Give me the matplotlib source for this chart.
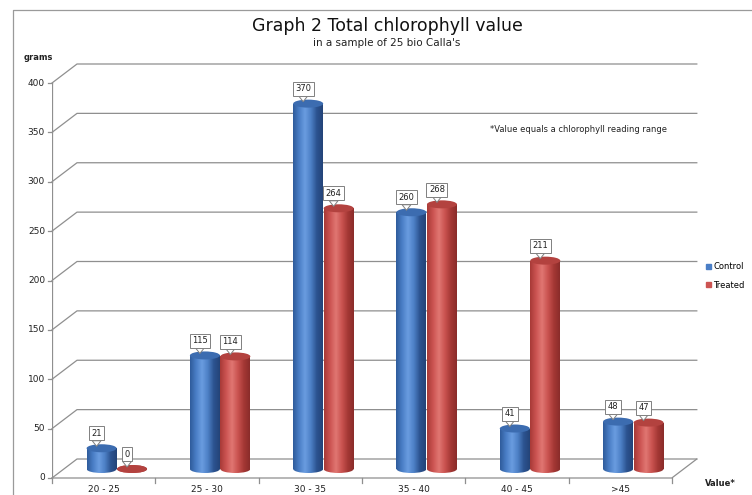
import numpy as np
import matplotlib
matplotlib.use("Agg")
import matplotlib.pyplot as plt
from matplotlib.colors import LinearSegmentedColormap
from matplotlib.patches import Ellipse, Patch
from matplotlib.lines import Line2D

# data
categories = ["20 - 25", "25 - 30", "30 - 35", "35 - 40", "40 - 45", ">45"]
control = [21, 115, 370, 260, 41, 48]
treated = [0, 114, 264, 268, 211, 47]
y_ticks = [0, 50, 100, 150, 200, 250, 300, 350, 400]

plt.rcParams["font.family"] = ["DejaVu Sans"]

W, H = 752, 495
fig = plt.figure(figsize=(W / 100, H / 100), dpi=100)

# plot box: front-left floor corner (52, 478) to back-top-right (693, 64), pixels
px_x = 103.3    # pixels per category
px_y = 0.9875   # pixels per gram
ax = fig.add_axes([52 / W, (H - 478) / H, (693 - 52) / W, (478 - 64) / H])
ax.set_autoscale_on(False)
ax.set_xlim(-0.5, -0.5 + (693 - 52) / px_x)
ax.set_ylim(0, (478 - 64) / px_y)
ax.axis("off")

dx = 25 / px_x   # depth offset of the back wall
dy = 19 / px_y
n = len(categories)
grid_c = "#8f8f8f"

# back wall gridlines (slanted at the left side wall)
for v in y_ticks:
    ax.plot([-0.5, -0.5 + dx, n - 0.5 + dx], [v, v + dy, v + dy],
            color=grid_c, lw=0.9, zorder=1, clip_on=False)
    ax.plot([-0.5 - 4 / px_x, -0.5], [v, v], color=grid_c, lw=0.9, clip_on=False)
    ax.text(-0.5 - 7 / px_x, v, str(v), ha="right", va="center",
            fontsize=6.5, color="#222222")

# floor front + right edge, front y axis
ax.plot([-0.5, n - 0.5, n - 0.5 + dx], [0, 0, dy], color=grid_c, lw=0.9,
        zorder=1, clip_on=False)
ax.plot([-0.5, -0.5], [0, y_ticks[-1]], color=grid_c, lw=0.9, zorder=1)
for b in np.arange(-0.5, n, 1.0):
    ax.plot([b, b], [0, -5 / px_y], color=grid_c, lw=0.9, clip_on=False)
for i, c in enumerate(categories):
    ax.text(i, -11 / px_y, c, ha="center", va="center", fontsize=6.5,
            color="#222222", clip_on=False)

# cylinder bars
blue_cm = LinearSegmentedColormap.from_list(
    "b", ["#2f5c9c", "#4a7ec6", "#6a9ce0", "#4d80c6", "#2c5390", "#244478"])
red_cm = LinearSegmentedColormap.from_list(
    "r", ["#a83a37", "#cc5452", "#e07672", "#ca5350", "#a53835", "#8a2c2a"])
grad = np.linspace(0, 1, 64).reshape(1, -1)

base = 9 / px_y          # bars stand in the middle of the floor depth
eh = 8 / px_y            # ellipse height of the cylinder caps
bw = 30 / px_x
x = np.arange(n)

series = [(control, -0.02, blue_cm, "#3c6cb0"),
          (treated, 0.275, red_cm, "#b3423f")]
for vals, off, cm, topc in series:
    bars = ax.bar(x + off, vals, width=bw, bottom=base, color="none", lw=0, zorder=2)
    for b, v in zip(bars, vals):
        x0, w = b.get_x(), b.get_width()
        cx = x0 + w / 2
        bot = Ellipse((cx, base), w, eh, fc="none", ec="none")
        ax.add_patch(bot)
        im = ax.imshow(grad, cmap=cm, extent=[x0, x0 + w, base - eh, base + eh],
                       aspect="auto", zorder=2, interpolation="bilinear")
        im.set_clip_path(bot)
        if v > 0:
            im2 = ax.imshow(grad, cmap=cm, extent=[x0, x0 + w, base, base + v],
                            aspect="auto", zorder=2, interpolation="bilinear")
            im2.set_clip_path(b)
        ax.add_patch(Ellipse((cx, base + v), w, eh, fc=topc, ec="none", zorder=2.1))
        ax.annotate(str(v), xy=(cx - 5 / px_x, base + v + eh / 2 - 2 / px_y),
                    xytext=(0, 6), textcoords="offset points",
                    ha="center", va="bottom", fontsize=6, color="#222222",
                    bbox=dict(boxstyle="square,pad=0.3", fc="white", ec="#808080", lw=0.7),
                    arrowprops=dict(arrowstyle="wedge,tail_width=0.7,shrink_factor=0.5",
                                    fc="white", ec="#808080", lw=0.7,
                                    shrinkA=0, shrinkB=0, mutation_scale=9),
                    zorder=5)

# texts
fig.text(387 / W, 1 - 26 / H, "Graph 2 Total chlorophyll value", ha="center",
         va="center", fontsize=12.5, color="#111111")
fig.text(387 / W, 1 - 43 / H, "in a sample of 25 bio Calla's", ha="center",
         va="center", fontsize=7.5, color="#222222")
fig.text(24 / W, 1 - 57 / H, "grams", ha="left", va="center", fontsize=6,
         fontweight="bold", color="#222222")
fig.text(490 / W, 1 - 130 / H, "*Value equals a chlorophyll reading range",
         ha="left", va="center", fontsize=6, color="#222222")
fig.text(705 / W, 1 - 484 / H, "Value*", ha="left", va="center", fontsize=6,
         fontweight="bold", color="#222222")

fig.legend(handles=[Patch(color="#4a7ec6"), Patch(color="#cc5452")],
           labels=["Control", "Treated"], loc="center left",
           bbox_to_anchor=(706 / W, 1 - 276 / H), frameon=False, fontsize=6,
           handlelength=0.6, handleheight=0.6, handletextpad=0.3, labelspacing=1.1,
           borderaxespad=0, borderpad=0)

# outer chart frame (left and top edges)
fig.add_artist(Line2D([12.5 / W, 12.5 / W, 1], [0, 1 - 10 / H, 1 - 10 / H],
                      transform=fig.transFigure, color="#9a9a9a", lw=0.9))

fig.savefig("out.png", dpi=100)
